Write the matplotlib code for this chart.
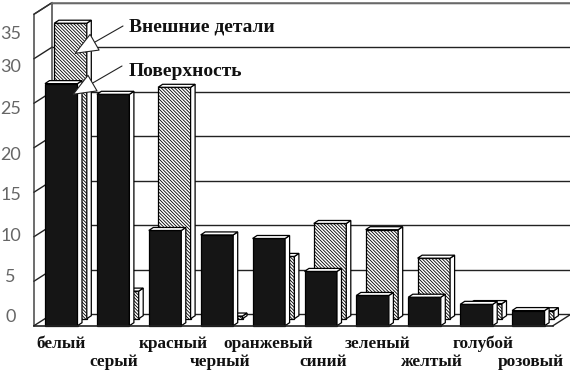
import matplotlib
matplotlib.use("Agg")
import matplotlib.pyplot as plt
import numpy as np

categories = ["белый", "серый", "красный", "черный", "оранжевый",
              "синий", "зеленый", "желтый", "голубой", "розовый"]
surface = [27.2, 26.0, 10.7, 10.2, 9.8, 6.1, 3.4, 3.2, 2.4, 1.7]
exterior = [33.2, 3.1, 26.0, 0.3, 7.0, 10.7, 10.0, 6.8, 1.7, 0.9]
y_ticks = [0, 5, 10, 15, 20, 25, 30, 35]

# style / layout
W, H = 570, 371
PX_X, PX_Y = 51.9, 8.9          # pixels per category / per value
X0, Y0 = 61.25, 325.7           # pixel position of category 0, value 0
tick_nudge = [1.03, 0.49, 0.13, -0.37, -0.77, -0.6, -0.97, -2.27]   # scan offsets of tick labels (value units)
label_nudge = [0, 0.02, 0.15, 0.06, -0.02, 0.04, 0.10, 0.14, 0.12, 0.05]

fig = plt.figure(figsize=(W / 100, H / 100), dpi=100)
ax = fig.add_axes([0, 0, 1, 1])
ax.set_xlim(-X0 / PX_X, (W - X0) / PX_X)
ax.set_ylim((Y0 - H) / PX_Y, Y0 / PX_Y)
ax.axis("off")
plt.rcParams["hatch.linewidth"] = 0.6

dx, dy = 18 / PX_X, 11.5 / PX_Y            # wall depth
bw = 32.5 / PX_X                           # bar width
sx, sy = 4.5 / PX_X, 3 / PX_Y              # bar 3-D depth
bx, by = 9.3 / PX_X, 7 / PX_Y              # offset of rear row
xl = (34 - X0) / PX_X                      # front left corner
xr = (553 - X0) / PX_X                     # front right corner
top = 35.0

# walls
for t in y_ticks:
    ax.plot([xl, xl + dx], [t, t + dy], color="#222222", lw=1.0, zorder=1)
    if t:
        ax.plot([xl + dx, xr + dx], [t + dy, t + dy], color="#222222", lw=1.0, zorder=1)
    ax.text(xl - 0.45, t + tick_nudge[y_ticks.index(t)], str(t), family="Lato", fontweight="normal",
            fontsize=13, color="#666666", ha="center", va="center", zorder=6)
ax.plot([xl + dx, xr + dx], [dy, dy], color="#222222", lw=1.0, zorder=1)
ax.plot([xl, xr], [0, 0], color="#222222", lw=1.2, zorder=5)
ax.plot([xl, xl, xl + dx, xl + dx], [0, top, top + dy, dy], color="#333333", lw=1.0, zorder=1)
ax.plot([xl + dx, xr + dx], [top + dy, top + dy], color="#777777", lw=1.2, zorder=1)
ax.plot([xr + dx, xr + dx], [top + dy, dy], color="black", lw=1.8, zorder=1)
ax.plot([xr, xr + dx], [0, dy], color="#222222", lw=1.0, zorder=1)


def bar3d(x, h, base, z, **face):
    left, right = x - bw / 2, x + bw / 2
    ax.bar(x, h, bottom=base, width=bw, zorder=z, linewidth=0.9, edgecolor="black", **face)
    ax.fill([right, right + sx, right + sx, right],
            [base, base + sy, base + h + sy, base + h],
            facecolor="white", edgecolor="black", linewidth=0.9, zorder=z)
    ax.fill([left, left + sx, right + sx, right],
            [base + h, base + h + sy, base + h + sy, base + h],
            facecolor="white", edgecolor="black", linewidth=0.9, zorder=z)


xs = np.arange(len(categories))
for i in xs:
    bar3d(i + bx, exterior[i], by, 2, facecolor="white", hatch="\\" * 10)
for i in xs:
    bar3d(i, surface[i], 0, 3, facecolor="#151515")

# category labels
for i, name in enumerate(categories):
    ypos = -2.0 if i % 2 == 0 else -4.05
    ax.text(i + label_nudge[i], ypos, name, family="Liberation Serif", fontweight="bold",
            fontsize=12.4, color="#111111", ha="center", va="center", zorder=6)


def px(xp, yp):
    return (xp - X0) / PX_X, (Y0 - yp) / PX_Y


# series call-outs
callouts = [("Внешние детали", (129, 27), (123, 26), (74, 54)),
            ("Поверхность", (129, 71), (122, 66), (72, 95))]
for text, tpos, tail, tip in callouts:
    ax.text(*px(*tpos), text, family="Liberation Serif", fontweight="bold", fontsize=14,
            color="#111111", ha="left", va="center", zorder=8)
    ax.annotate("", xy=px(*tip), xytext=px(*tail), zorder=8,
                arrowprops=dict(arrowstyle="-|>,head_length=1.6,head_width=0.65", fc="white", ec="#222222",
                                lw=0.8, shrinkA=0, shrinkB=0))

fig.savefig("out.png", dpi=100)
